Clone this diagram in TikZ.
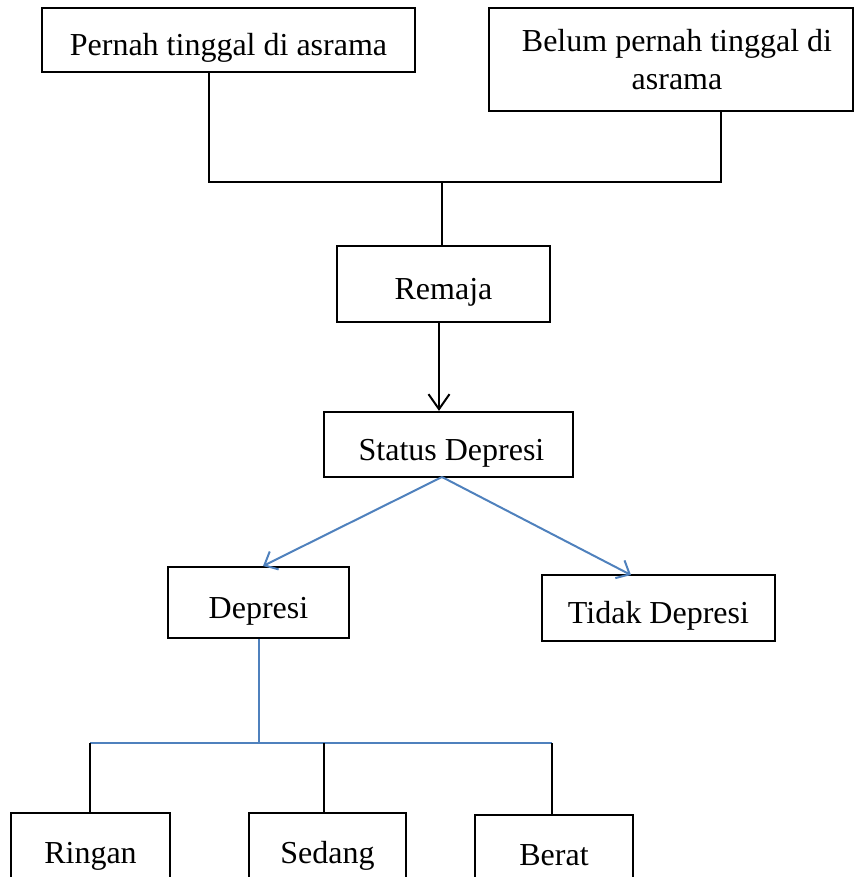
\documentclass[tikz,border=0pt]{standalone}
\usepackage{fontspec}
\setmainfont{Liberation Serif}
\usetikzlibrary{arrows.meta}
\definecolor{lineblue}{RGB}{79,129,189}
\tikzset{
  box/.style={draw=black, line width=2.2pt, rectangle, inner sep=0pt, align=center,
    font=\fontsize{32}{38}\selectfont},
  lowtext/.style={text height=31pt, text depth=0pt},
  blk/.style={draw=black, line width=2pt},
  blu/.style={draw=lineblue, line width=2pt},
  barb/.style={-{Straight Barb[length=15pt,width=21pt,line width=2pt]}},
  bbarb/.style={-{Straight Barb[length=11pt,width=20pt,line width=2pt]}}
}
\begin{document}
\begin{tikzpicture}[x=1pt,y=-1pt]
\useasboundingbox (0,0) rectangle (854,877);
% boxes
\node[box, lowtext, minimum width=373pt, minimum height=64pt] (pernah) at (228.5,40) {Pernah tinggal di asrama};
\node[box, minimum width=364pt, minimum height=103pt] (belum) at (671,59.5) {\hspace*{12pt}Belum pernah tinggal di\\\hspace*{12pt}asrama};
\node[box, lowtext, minimum width=213pt, minimum height=76pt] (remaja) at (443.5,284) {Remaja};
\node[box, lowtext, minimum width=249pt, minimum height=65pt] (status) at (448.5,444.5) {\hspace*{6pt}Status Depresi};
\node[box, lowtext, minimum width=181pt, minimum height=71pt] (depresi) at (258.5,602.5) {Depresi};
\node[box, lowtext, minimum width=233pt, minimum height=66pt] (tidak) at (658.5,608) {Tidak Depresi};
\node[box, lowtext, minimum width=159pt, minimum height=70pt] (ringan) at (90.5,848) {Ringan};
\node[box, lowtext, minimum width=157pt, minimum height=70pt] (sedang) at (327.5,848) {Sedang};
\node[box, lowtext, minimum width=158pt, minimum height=70pt] (berat) at (554,850) {Berat};
% junction coordinates
\coordinate (jl) at (209,182);
\coordinate (jr) at (721,182);
\coordinate (jc) at (442,182);
\coordinate (ax) at (439,0);
\coordinate (bs) at (442,477);
\coordinate (tl) at (263,566);
\coordinate (tr) at (631,575);
\coordinate (dv) at (259,743);
\coordinate (hl) at (90,743);
\coordinate (hm) at (324,743);
\coordinate (hr) at (552,743);
% top connectors
\draw[blk] (pernah.south -| jl) -- (jl) -- (jr) -- (belum.south -| jr);
\draw[blk] (jc) -- (remaja.north -| jc);
\draw[blk, barb] (remaja.south -| ax) -- (status.north -| ax);
% blue branches
\draw[blu, bbarb] (bs) -- (tl);
\draw[blu, bbarb] (bs) -- (tr);
\draw[blu] (depresi.south -| dv) -- (dv);
\draw[blu] (hl) -- (hr);
% bottom connectors
\draw[blk] (hl) -- (ringan.north -| hl);
\draw[blk] (hm) -- (sedang.north -| hm);
\draw[blk] (hr) -- (berat.north -| hr);
\end{tikzpicture}
\end{document}
